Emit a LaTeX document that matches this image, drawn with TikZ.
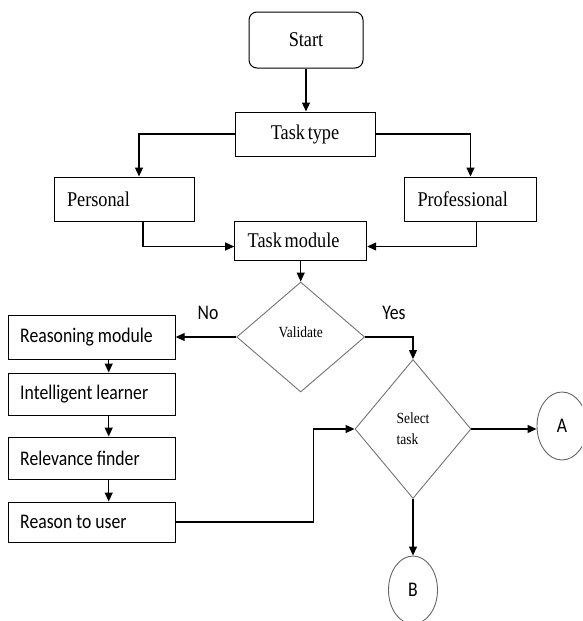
\documentclass[tikz,border=0pt]{standalone}
\usepackage{fontspec}
\setmainfont{Liberation Serif}[FakeStretch=0.87,WordSpace=0.6]
\newfontfamily\calibri{Carlito}[FakeStretch=0.85]
\usetikzlibrary{shapes.geometric,arrows.meta}
\newcommand{\lefttext}[2]{\makebox[#1][l]{#2}}

\begin{document}
\begin{tikzpicture}[x=1pt,y=-1pt,
  box/.style={draw,line width=1pt,inner xsep=13pt,inner ysep=0pt,font=\fontsize{21}{24}\selectfont},
  sbox/.style={box,inner xsep=12pt,font=\calibri\fontsize{20.8}{24}\selectfont},
  dia/.style={diamond,draw=black!55,line width=0.9pt,inner sep=0pt,font=\fontsize{15.5}{21}\selectfont},
  conn/.style={ellipse,draw=black!60,line width=0.9pt,inner sep=0pt,font=\calibri\fontsize{20.8}{24}\selectfont},
  arr/.style={line width=1.2pt,-{Triangle[length=9pt,width=8pt]}},
  lbl/.style={font=\calibri\fontsize{20.8}{24}\selectfont}]

\clip (0,0) rectangle (582,621);

% top part
\node[box,rounded corners=8pt,minimum width=114pt,minimum height=56pt] (start) at (306,40) {Start};
\node[box,minimum width=140pt,minimum height=44pt] (ttype) at (305,134) {Task type};
\node[box,minimum height=44pt] (pers) at (124,199) {\lefttext{114pt}{Personal}};
\node[box,minimum height=44pt] (prof) at (470.5,199) {\lefttext{106pt}{Professional}};
\node[box,minimum height=39pt] (tmod) at (300.7,240.5) {\lefttext{106pt}{Task module}};

% decisions
\node[dia,minimum width=128pt,minimum height=110pt] (valid) at (300.7,337) {\raisebox{10pt}{Validate}};
\node[dia,minimum width=116pt,minimum height=139pt,align=left] (sel) at (413,429) {Select\\task};
\node[lbl] (no) at (208,313) {No};
\node[lbl] (yes) at (394,313) {Yes};

% reasoning chain
\node[sbox,minimum height=44pt] (reas) at (91.7,337) {\lefttext{143pt}{Reasoning module}};
\node[sbox,minimum height=42pt] (learn) at (91.7,394) {\lefttext{143pt}{Intelligent learner}};
\node[sbox,minimum height=42pt] (find) at (91.7,458) {\lefttext{143pt}{Relevance finder}};
\node[sbox,minimum height=40pt] (user) at (91.7,522) {\lefttext{143pt}{Reason to user}};

% connectors
\node[conn,minimum width=50pt,minimum height=68pt] (a) at (562,426) {A};
\node[conn,minimum width=49pt,minimum height=68pt] (b) at (413,590) {B};

\draw[arr] (start.south) -- (start.south |- ttype.north);
\draw[arr] (ttype.west) -| ([xshift=15pt]pers.north);
\draw[arr] (ttype.east) -| (prof.north);
\draw[arr] ([xshift=19pt]pers.south) |- ([yshift=-6pt]tmod.west);
\draw[arr] ([xshift=6pt]prof.south) |- ([yshift=-6pt]tmod.east);
\draw[arr] (tmod.south) -- (valid.north);
\draw[arr] (valid.west) -- (reas.east);
\draw[arr] (valid.east) -| (sel.north);
\foreach \u/\v in {reas/learn,learn/find,find/user}
  \draw[arr] ([xshift=17pt]\u.south) -- ([xshift=17pt]\v.north);
\coordinate (bend) at (313.6,429);
\draw[arr] (user.east) -| (bend) -- (sel.west);
\draw[arr] (sel.east) -- (sel.east -| a.west);
\draw[arr] (sel.south) -- (b.north);

\end{tikzpicture}
\end{document}
